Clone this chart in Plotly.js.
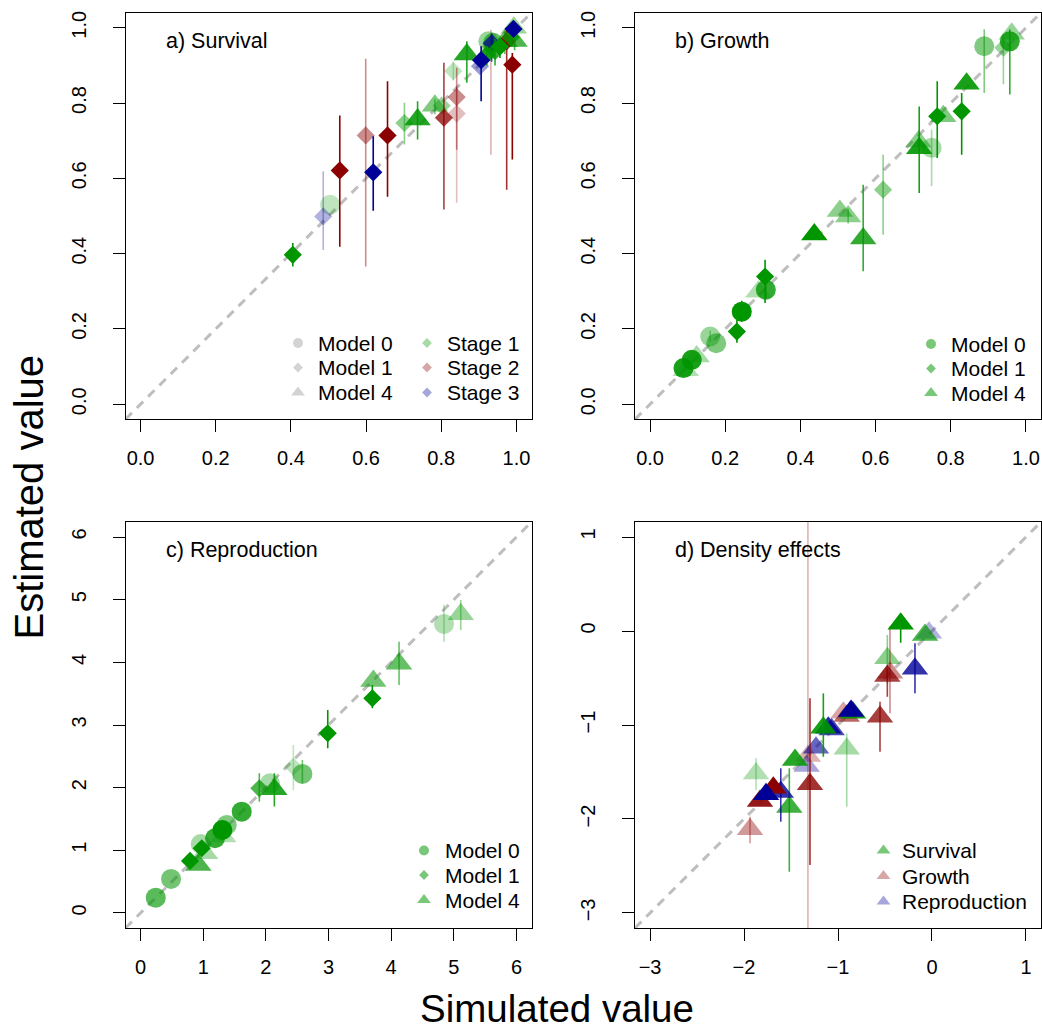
<!DOCTYPE html>
<html><head><meta charset="utf-8">
<script src="https://cdn.plot.ly/plotly-3.0.1.min.js"></script>
<style>html,body{margin:0;padding:0;background:#fff}#chart{width:1042px;height:1030px}</style>
</head><body><div id="chart"></div>
<script>
// ---------- a) Survival ----------
const survSim   = [0.405,0.486,0.504,0.530,0.599,0.619,0.657,0.702,0.737,0.783,0.801,0.807,0.841,0.841,0.832,0.868,0.906,0.903,0.932,0.925,0.943,0.938,0.934,0.969,0.974,0.989,0.992,0.995,0.985,0.993,0.956,0.921];
const survEst   = [0.397,0.499,0.530,0.621,0.714,0.616,0.714,0.747,0.756,0.793,0.793,0.761,0.816,0.772,0.885,0.929,0.914,0.898,0.951,0.964,0.938,0.960,0.959,0.964,0.964,0.902,0.997,0.965,0.975,1.000,0.950,0.928];
const survLo    = [0.366,0.410,0.530,0.418,0.366,0.514,0.551,0.690,0.703,0.770,0.793,0.517,0.676,0.535,0.860,0.854,0.805,0.898,0.663,0.964,0.900,0.930,0.910,0.930,0.570,0.650,0.990,0.940,0.950,0.990,0.920,0.900];
const survHi    = [0.428,0.619,0.530,0.767,0.918,0.712,0.858,0.801,0.805,0.810,0.793,0.907,0.894,0.845,0.910,0.964,0.951,0.898,0.995,0.964,0.970,0.980,0.985,0.990,0.995,0.933,1.000,0.985,0.990,1.000,0.970,0.950];
const survStage = [1,3,1,2,2,3,2,1,1,1,1,2,2,2,1,1,3,3,2,1,1,1,3,1,2,2,3,1,1,1,1,1];
const survModel = [1,1,0,1,1,1,1,1,4,4,1,1,1,1,1,4,1,1,1,0,1,0,1,4,1,1,1,4,1,4,1,1];
const survShade = [1,0.3,0.25,1,0.45,1,1,0.45,0.85,0.5,0.4,0.75,0.45,0.25,0.25,0.85,1,0.4,0.3,0.4,0.8,0.6,0.7,0.6,0.8,1,1,0.7,0.8,0.4,1,0.9];

// ---------- b) Growth ----------
const growSim   = [0.089,0.111,0.124,0.095,0.160,0.176,0.231,0.244,0.288,0.308,0.306,0.437,0.505,0.527,0.567,0.620,0.714,0.716,0.749,0.764,0.780,0.829,0.842,0.889,0.940,0.957,0.962];
const growEst   = [0.096,0.118,0.127,0.090,0.180,0.162,0.193,0.246,0.299,0.304,0.339,0.451,0.513,0.499,0.440,0.570,0.698,0.680,0.681,0.765,0.765,0.778,0.851,0.951,0.947,0.964,0.984];
const growLo    = [0.096,0.118,0.127,0.090,0.165,0.162,0.163,0.219,0.299,0.280,0.269,0.451,0.513,0.480,0.353,0.450,0.698,0.561,0.580,0.654,0.765,0.663,0.851,0.827,0.850,0.823,0.984];
const growHi    = [0.096,0.118,0.127,0.090,0.195,0.162,0.224,0.275,0.299,0.330,0.384,0.451,0.513,0.520,0.583,0.663,0.698,0.791,0.730,0.858,0.765,0.827,0.851,0.996,0.980,0.996,0.984];
const growModel = [0,0,4,4,0,0,1,0,4,0,1,4,4,4,4,1,4,4,0,1,4,1,4,0,1,0,4];
const growShade = [0.9,0.9,0.35,0.3,0.4,0.5,1,1,0.3,0.8,1,1,0.45,0.45,0.8,0.45,0.45,0.9,0.35,1,0.5,1,0.9,0.5,0.4,0.8,0.4];

// ---------- c) Reproduction ----------
const reprSim   = [0.243,0.487,0.790,0.923,0.977,1.030,0.960,1.189,1.320,1.306,1.376,1.615,1.896,2.067,2.136,2.439,2.583,2.988,3.700,3.716,4.126,4.844,5.111];
const reprEst   = [0.244,0.543,0.830,0.766,1.033,0.953,1.100,1.192,1.220,1.325,1.405,1.617,1.990,2.070,1.974,2.335,2.219,2.868,3.427,3.703,3.979,4.613,4.768];
const reprLo    = [0.244,0.543,0.830,0.766,1.033,0.953,1.100,1.192,1.220,1.325,1.405,1.617,1.777,2.070,1.700,1.960,2.070,2.629,3.267,3.703,3.640,4.330,4.517];
const reprHi    = [0.244,0.543,0.830,0.766,1.033,0.953,1.100,1.192,1.220,1.325,1.405,1.617,2.230,2.070,2.230,2.680,2.440,3.240,3.639,3.703,4.330,4.920,4.996];
const reprModel = [0,0,1,4,1,4,0,0,4,0,0,0,1,0,4,1,0,1,1,4,4,0,4];
const reprShade = [0.65,0.55,1,0.7,1,0.35,0.35,0.8,0.3,1,0.5,0.8,0.7,0.35,0.85,0.25,0.55,1,1,0.55,0.6,0.3,0.4];

// ---------- d) Density effects (0 survival, 1 growth, 2 reproduction) ----------
const densSim   = [-0.333,-0.074,-0.032,-0.475,-0.475,-0.447,-0.181,-0.553,-0.840,-0.861,-0.943,-0.907,-1.156,-1.067,-1.103,-0.907,-1.234,-1.320,-1.333,-1.457,-1.298,-1.872,-1.688,-1.766,-1.609,-1.830,-1.518,-1.936];
const densEst   = [0.077,-0.043,-0.018,-0.291,-0.479,-0.444,-0.401,-0.912,-0.870,-0.851,-0.869,-0.905,-1.029,-1.047,-1.029,-1.253,-1.242,-1.330,-1.437,-1.373,-1.631,-1.515,-1.667,-1.738,-1.713,-1.809,-1.873,-2.110];
const densLo    = [-0.125,-0.043,-0.018,-0.557,-0.700,-0.876,-0.663,-1.285,-0.870,-0.851,-0.869,-0.905,-1.338,-1.047,-1.029,-1.870,-1.242,-4.000,-1.437,-1.373,-2.490,-1.692,-1.667,-1.738,-2.029,-1.809,-2.561,-2.259];
const densHi    = [0.077,-0.043,-0.018,-0.043,-0.400,0.046,-0.131,-0.752,-0.870,-0.851,-0.869,-0.905,-0.663,-1.047,-1.029,-1.089,-1.242,2.000,-1.437,-1.373,-0.716,-1.355,-1.667,-1.738,-1.461,-1.809,-1.461,-1.976];
const densRate  = [0,0,2,0,1,1,2,1,0,2,1,1,0,2,2,0,2,1,2,0,1,0,1,2,2,1,0,1];
const densShade = [1,0.7,0.3,0.45,0.75,0.45,0.8,0.75,0.9,1,0.35,0.6,0.9,0.7,0.85,0.35,0.6,0.3,0.35,0.85,0.8,0.3,1,1,0.8,0.9,0.75,0.4];

// ---------- legends & labels ----------
const panelLabels = ['a) Survival','b) Growth','c) Reproduction','d) Density effects'];
const modelLabels = ['Model 0','Model 1','Model 4'];
const stageLabels = ['Stage 1','Stage 2','Stage 3'];
const rateLabels  = ['Survival','Growth','Reproduction'];
const xTitle = 'Simulated value';
const yTitle = 'Estimated value';

// axis ranges [min,max]
const rangeUnit = [-0.04, 1.04];
const rangeRepr = [-0.24, 6.24];
const rangeDens = [-3.16, 1.16];

// ---------- styling ----------
const FONT = 'Liberation Sans, Arial, Helvetica, sans-serif';
const COL = {green:'0,150,0', red:'139,0,0', blue:'0,0,150', grey:'128,128,128'};
const stageCol = {1:COL.green, 2:COL.red, 3:COL.blue};
const rateCol = [COL.green, COL.red, COL.blue];
const modelSym = {0:'circle', 1:'diamond', 4:'triangle-up'};
const symSize = {'circle':20, 'diamond':14, 'triangle-up':23};
const legSize = {'circle':10, 'diamond':7.5, 'triangle-up':12};

const W = 1042, H = 1030;
const traces = [];

function pt(xa, ya, x, y, lo, hi, rgb, a, sym) {
  const c = 'rgba(' + rgb + ',' + a + ')';
  const bar = (hi > y || lo < y);
  return {
    shade: a,
    trace: {
      type:'scatter', mode:'markers', x:[x], y:[y], xaxis:xa, yaxis:ya,
      showlegend:false, hoverinfo:'skip',
      marker:{symbol:sym, size:symSize[sym], color:c, line:{width:0}},
      error_y: bar ? {type:'data', symmetric:false, array:[hi - y], arrayminus:[y - lo],
                      color:c, thickness:1.6, width:0} : {visible:false}
    }
  };
}
// paler points drawn first, darker on top
function addPanel(list) {
  list.map((o,i) => [o,i]).sort((p,q) => (p[0].shade - q[0].shade) || (p[1] - q[1]))
      .forEach(p => traces.push(p[0].trace));
}
addPanel(survSim.map((v,i) => pt('x','y', v, survEst[i], survLo[i], survHi[i], stageCol[survStage[i]], survShade[i], modelSym[survModel[i]])));
addPanel(growSim.map((v,i) => pt('x2','y2', v, growEst[i], growLo[i], growHi[i], COL.green, growShade[i], modelSym[growModel[i]])));
addPanel(reprSim.map((v,i) => pt('x3','y3', v, reprEst[i], reprLo[i], reprHi[i], COL.green, reprShade[i], modelSym[reprModel[i]])));
addPanel(densSim.map((v,i) => pt('x4','y4', v, densEst[i], densLo[i], densHi[i], rateCol[densRate[i]], densShade[i], 'triangle-up')));

// ---------- legends drawn on a pixel overlay ----------
const annotations = [];
function legendBlock(xm, xt, rows, labels, syms, cols) {
  traces.push({
    type:'scatter', mode:'markers', xaxis:'x5', yaxis:'y5', showlegend:false, hoverinfo:'skip',
    x: rows.map(() => xm), y: rows,
    marker:{symbol:syms, size:syms.map(s => legSize[s]), color:cols, line:{width:0}}
  });
  labels.forEach((t,i) => annotations.push({
    xref:'x5', yref:'y5', x:xt, y:rows[i], text:t, showarrow:false, borderpad:0,
    xanchor:'left', yanchor:'middle', font:{family:FONT, size:21, color:'#000'}
  }));
}
const grey = 'rgba(' + COL.grey + ',0.5)';
const syms3 = [0,1,4].map(m => modelSym[m]);
legendBlock(298, 317, [343, 367.5, 392.5], modelLabels, syms3, [grey,grey,grey]);
legendBlock(427, 446, [343, 367.5, 392.5], stageLabels, ['diamond','diamond','diamond'],
            [1,2,3].map(s => 'rgba(' + stageCol[s] + ',0.5)'));
const gMid = 'rgba(' + COL.green + ',0.75)';
legendBlock(931, 950, [344, 368.5, 393], modelLabels, syms3, [gMid,gMid,gMid]);
legendBlock(424, 443.5, [850.5, 875, 900], modelLabels, syms3, [gMid,gMid,gMid]);
legendBlock(883.5, 901, [850.5, 876, 901.5], rateLabels, ['triangle-up','triangle-up','triangle-up'],
            ['rgba(' + COL.green + ',0.75)', 'rgba(' + COL.red + ',0.5)', 'rgba(' + COL.blue + ',0.5)']);

// panel labels
const labelPos = [[165, 40.5], [674, 40.5], [165, 550], [674, 550]];
panelLabels.forEach((t,i) => annotations.push({
  xref:'x5', yref:'y5', x:labelPos[i][0], y:labelPos[i][1], text:t, showarrow:false, borderpad:0,
  xanchor:'left', yanchor:'middle', font:{family:FONT, size:21.5, color:'#000'}
}));
// global axis titles
annotations.push({xref:'x5', yref:'y5', x:557, y:1008, text:xTitle, showarrow:false, borderpad:0,
  xanchor:'center', yanchor:'middle', font:{family:FONT, size:38.5, color:'#000'}});
annotations.push({xref:'x5', yref:'y5', x:28, y:497.5, text:yTitle, showarrow:false, textangle:-90, borderpad:0,
  xanchor:'center', yanchor:'middle', font:{family:FONT, size:40, color:'#000'}});

// ---------- axes ----------
const colX = [[125.5, 531.5], [635, 1041]];
const rowY = [[12.7, 419.3], [522, 928]];
const dx = p => [p[0] / W, p[1] / W];
const dy = p => [1 - p[1] / H, 1 - p[0] / H];

function ax(domain, range, dtick, fmt, anchor, isY) {
  return {
    domain, range, tick0:0, dtick, tickformat:fmt, anchor,
    showline:true, mirror:true, linecolor:'#000', linewidth:1,
    ticks:'outside', ticklen:12, tickwidth:1, tickcolor:'#000',
    showgrid:false, zeroline:false, fixedrange:true,
    tickangle: isY ? -90 : 0, ticklabelstandoff: isY ? 19 : 9,
    tickfont:{family:FONT, size:20, color:'#000'}
  };
}

const shapes = [];
function refLine(xr, yr, r) {
  shapes.push({type:'line', xref:xr, yref:yr, x0:r[0], y0:r[0], x1:r[1], y1:r[1], layer:'below',
               line:{color:'#bebebe', width:3, dash:'9px,7px'}});
}
refLine('x','y', rangeUnit);
refLine('x2','y2', rangeUnit);
refLine('x3','y3', rangeRepr);
refLine('x4','y4', rangeDens);

const layout = {
  width:W, height:H, margin:{l:0, r:0, t:0, b:0},
  paper_bgcolor:'#fff', plot_bgcolor:'rgba(0,0,0,0)', showlegend:false,
  xaxis:  ax(dx(colX[0]), rangeUnit, 0.2, '.1f', 'y', false),
  yaxis:  ax(dy(rowY[0]), rangeUnit, 0.2, '.1f', 'x', true),
  xaxis2: ax(dx(colX[1]), rangeUnit, 0.2, '.1f', 'y2', false),
  yaxis2: ax(dy(rowY[0]), rangeUnit, 0.2, '.1f', 'x2', true),
  xaxis3: ax(dx(colX[0]), rangeRepr, 1, 'd', 'y3', false),
  yaxis3: ax(dy(rowY[1]), rangeRepr, 1, 'd', 'x3', true),
  xaxis4: ax(dx(colX[1]), rangeDens, 1, 'd', 'y4', false),
  yaxis4: ax(dy(rowY[1]), rangeDens, 1, 'd', 'x4', true),
  xaxis5: {domain:[0,1], range:[0,W], visible:false, fixedrange:true, anchor:'y5'},
  yaxis5: {domain:[0,1], range:[H,0], visible:false, fixedrange:true, anchor:'x5'},
  shapes, annotations
};

Plotly.newPlot('chart', traces, layout, {staticPlot:true, displayModeBar:false});
</script></body></html>
